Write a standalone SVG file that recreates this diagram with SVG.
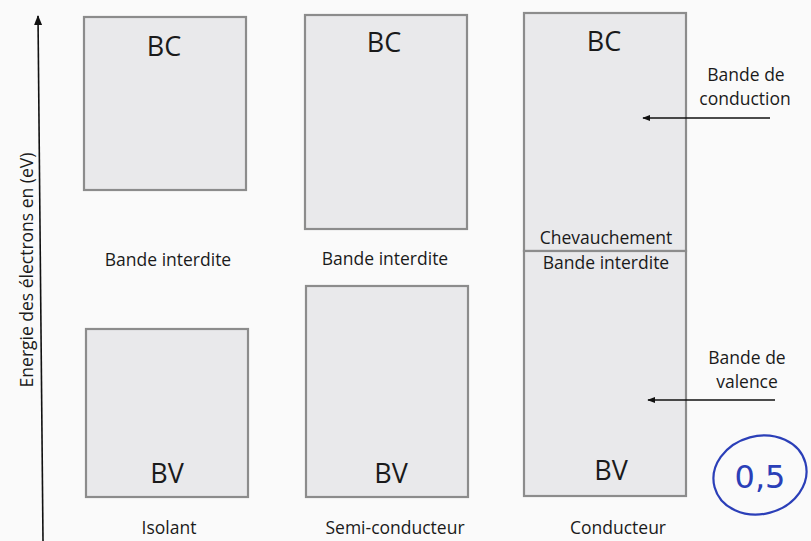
<svg xmlns="http://www.w3.org/2000/svg" width="811" height="541" viewBox="0 0 811 541">
<defs>
<style>
.band{fill:#e9e9eb;stroke:#8c8c8c;stroke-width:2.2}
.big{font-family:"Open Sans","Liberation Sans",sans-serif;font-size:27px;fill:#1a1a1a;text-anchor:middle}
.lbl{font-family:"Open Sans","Liberation Sans",sans-serif;font-size:17.5px;fill:#1a1a1a;text-anchor:middle}
.conn{stroke:#111;stroke-width:1.6;fill:none}
</style>
<marker id="ah" viewBox="0 0 10 10" refX="9" refY="5" markerWidth="8" markerHeight="8" orient="auto" markerUnits="userSpaceOnUse">
<path d="M0,1 L10,5 L0,9 Z" fill="#111"/>
</marker>
<marker id="ah2" viewBox="0 0 10 10" refX="9" refY="5" markerWidth="10" markerHeight="10" orient="auto" markerUnits="userSpaceOnUse">
<path d="M0,1 L10,5 L0,9 Z" fill="#111"/>
</marker>
</defs>
<rect width="811" height="541" fill="#fafafa"/>

<g id="axis">
<line class="conn" x1="43" y1="541" x2="38" y2="16" marker-end="url(#ah2)"/>
<text class="lbl" transform="translate(33,270) rotate(-90)">Energie des électrons en (eV)</text>
</g>

<g id="isolant">
<g id="isolant-bc"><rect class="band" x="84" y="17" width="162" height="173"/><text class="big" x="164" y="56">BC</text></g>
<text class="lbl" x="168" y="266">Bande interdite</text>
<g id="isolant-bv"><rect class="band" x="86" y="329" width="162" height="168"/><text class="big" x="167" y="483">BV</text></g>
<text class="lbl" x="169" y="534">Isolant</text>
</g>

<g id="semi">
<g id="semi-bc"><rect class="band" x="305" y="15" width="162" height="214"/><text class="big" x="384" y="52">BC</text></g>
<text class="lbl" x="385" y="265">Bande interdite</text>
<g id="semi-bv"><rect class="band" x="306" y="286" width="162" height="211"/><text class="big" x="391" y="483">BV</text></g>
<text class="lbl" x="395" y="534">Semi-conducteur</text>
</g>

<g id="conducteur">
<g id="cond-bc"><rect class="band" x="524" y="13" width="162" height="238"/><text class="big" x="604" y="51">BC</text></g>
<g id="cond-bv"><rect class="band" x="524" y="251" width="162" height="245"/><text class="big" x="611" y="480">BV</text></g>
<text class="lbl" x="606" y="244">Chevauchement</text>
<text class="lbl" x="606" y="269">Bande interdite</text>
<text class="lbl" x="618" y="534">Conducteur</text>
</g>

<g id="label-conduction">
<text class="lbl" x="746" y="81">Bande de</text>
<text class="lbl" x="745" y="105">conduction</text>
</g>
<g id="label-valence">
<text class="lbl" x="747" y="364">Bande de</text>
<text class="lbl" x="747" y="388">valence</text>
</g>

<g id="connectors">
<line class="conn" x1="770" y1="118" x2="643" y2="118" marker-end="url(#ah)"/>
<line class="conn" x1="775" y1="400" x2="648" y2="400" marker-end="url(#ah)"/>
</g>

<g id="note">
<ellipse cx="760" cy="475" rx="47" ry="39" transform="rotate(-15 760 475)" fill="none" stroke="#2b3fb8" stroke-width="2.2"/>
<text x="760" y="488" font-family="'DejaVu Sans',sans-serif" font-size="32" fill="#2b3fb8" text-anchor="middle">0,5</text>
</g>
</svg>
